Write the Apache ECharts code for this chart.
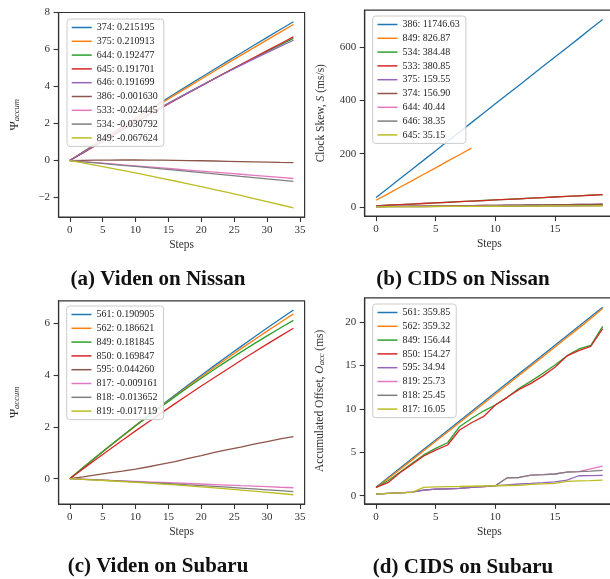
<!DOCTYPE html>
<html><head><meta charset="utf-8">
<script src="https://cdn.jsdelivr.net/npm/echarts@6/dist/echarts.min.js"></script>
<style>html,body{margin:0;padding:0;background:#fff}#c{width:610px;height:579px}</style>
</head><body><div id="c"></div>
<script>
// ---------- data ----------
const stepsA = [0,2,4,6,8,10,12,14,16,18,20,22,24,26,28,30,32,34];
const stepsB = [0,1,2,3,4,5,6,7,8,9,10,11,12,13,14,15,16,17,18,19];

const namesA = ['374: 0.215195','375: 0.210913','644: 0.192477','645: 0.191701','646: 0.191699','386: -0.001630','533: -0.024445','534: -0.030792','849: -0.067624'];
const a374 = [0,0.461,0.920,1.376,1.830,2.282,2.730,3.177,3.620,4.061,4.500,4.936,5.370,5.801,6.229,6.655,7.079,7.500];
const a375 = [0,0.452,0.902,1.348,1.793,2.236,2.675,3.113,3.548,3.980,4.410,4.837,5.263,5.685,6.104,6.522,6.937,7.350];
const a644 = [0,0.428,0.851,1.269,1.682,2.090,2.493,2.892,3.285,3.673,4.056,4.435,4.808,5.177,5.540,5.899,6.253,6.602];
const a645 = [0,0.418,0.833,1.245,1.653,2.059,2.461,2.860,3.256,3.649,4.039,4.426,4.810,5.190,5.567,5.941,6.313,6.680];
const a646 = [0,0.434,0.861,1.283,1.697,2.106,2.507,2.903,3.292,3.674,4.050,4.420,4.783,5.140,5.490,5.834,6.171,6.502];
const a386 = [0,0.010,0.020,0.025,0.030,0.030,0.025,0.020,0.010,0,-0.010,-0.025,-0.040,-0.055,-0.070,-0.085,-0.100,-0.110];
const a533 = [0,-0.057,-0.114,-0.171,-0.228,-0.285,-0.342,-0.399,-0.456,-0.513,-0.570,-0.627,-0.684,-0.741,-0.798,-0.855,-0.912,-0.970];
const a534 = [0,-0.066,-0.130,-0.195,-0.260,-0.320,-0.385,-0.450,-0.520,-0.590,-0.655,-0.720,-0.790,-0.860,-0.925,-0.990,-1.055,-1.120];
const a849 = [0,-0.128,-0.260,-0.394,-0.530,-0.670,-0.812,-0.957,-1.105,-1.256,-1.409,-1.565,-1.724,-1.886,-2.051,-2.218,-2.388,-2.562];

const namesB = ['386: 11746.63','849: 826.87','534: 384.48','533: 380.85','375: 159.55','374: 156.90','644: 40.44','646: 38.35','645: 35.15'];
const b386 = [35,70,106,141,176,211,247,282,317,352,388,423,458,493,529,564,599,634,670,705];
const b849 = [25,49,74,98,123,147,172,196,221];
const b534 = [4.2,6.4,8.6,10.8,13.0,15.3,17.5,19.7,21.9,24.1,26.3,28.5,30.7,32.9,35.1,37.4,39.6,41.8,44.0,46.2];
const b533 = [4.0,6.2,8.4,10.6,12.8,15.1,17.3,19.5,21.7,23.9,26.1,28.3,30.5,32.7,34.9,37.2,39.4,41.6,43.8,46.0];
const b375 = [1.5,2.0,2.4,2.9,3.3,3.8,4.2,4.7,5.1,5.6,6.0,6.5,6.9,7.4,7.8,8.3,8.7,9.2,9.6,10.1];
const b374 = [1.4,1.9,2.3,2.8,3.2,3.7,4.1,4.6,5.0,5.5,5.9,6.4,6.8,7.3,7.7,8.2,8.6,9.1,9.5,9.9];
const b644 = [0.5,0.7,1.0,1.2,1.4,1.7,1.9,2.1,2.4,2.6,2.8,3.1,3.3,3.5,3.8,4.0,4.2,4.5,4.7,4.9];
const b646 = [0.5,0.7,0.9,1.1,1.4,1.6,1.8,2.0,2.3,2.5,2.7,2.9,3.1,3.4,3.6,3.8,4.0,4.3,4.5,4.7];
const b645 = [0.4,0.6,0.8,1.0,1.3,1.5,1.7,1.9,2.1,2.3,2.5,2.7,2.9,3.1,3.3,3.5,3.7,3.9,4.1,4.3];

const namesC = ['561: 0.190905','562: 0.186621','849: 0.181845','850: 0.169847','595: 0.044260','817: -0.009161','818: -0.013652','819: -0.017119'];
const c561 = [0,0.419,0.833,1.243,1.648,2.049,2.445,2.837,3.224,3.606,3.984,4.357,4.726,5.090,5.450,5.805,6.155,6.502];
const c562 = [0,0.418,0.831,1.238,1.639,2.035,2.426,2.810,3.190,3.563,3.931,4.294,4.651,5.002,5.348,5.688,6.022,6.351];
const c849 = [0,0.424,0.839,1.247,1.646,2.038,2.421,2.796,3.163,3.522,3.872,4.215,4.550,4.876,5.194,5.505,5.807,6.101];
const c850 = [0,0.377,0.750,1.118,1.482,1.842,2.196,2.546,2.892,3.233,3.570,3.902,4.230,4.553,4.871,5.186,5.495,5.800];
const c595 = [0,0.07,0.15,0.22,0.29,0.37,0.46,0.56,0.66,0.78,0.89,1.01,1.12,1.22,1.33,1.43,1.53,1.62];
const c817 = [0,-0.021,-0.041,-0.062,-0.082,-0.103,-0.124,-0.144,-0.165,-0.185,-0.206,-0.227,-0.247,-0.268,-0.288,-0.309,-0.330,-0.350];
const c818 = [0,-0.023,-0.046,-0.071,-0.096,-0.122,-0.149,-0.177,-0.205,-0.235,-0.265,-0.296,-0.328,-0.361,-0.394,-0.429,-0.464,-0.500];
const c819 = [0,-0.025,-0.052,-0.080,-0.110,-0.141,-0.173,-0.207,-0.242,-0.278,-0.316,-0.355,-0.396,-0.438,-0.481,-0.526,-0.572,-0.620];

const namesD = ['561: 359.85','562: 359.32','849: 156.44','850: 154.27','595: 34.94','819: 25.73','818: 25.45','817: 16.05'];
const d561 = [0.98,2.07,3.16,4.25,5.34,6.43,7.52,8.61,9.70,10.79,11.88,12.97,14.06,15.15,16.24,17.33,18.42,19.51,20.60,21.70];
const d562 = [0.92,1.95,3.02,4.10,5.18,6.26,7.34,8.43,9.51,10.60,11.68,12.77,13.86,14.95,16.04,17.12,18.21,19.30,20.40,21.55];
const d849 = [0.96,1.73,2.70,3.70,4.70,5.45,6.10,7.95,8.90,9.75,10.45,11.33,12.37,13.20,14.10,15.05,16.10,16.90,17.30,19.50];
const d850 = [0.96,1.50,2.65,3.60,4.57,5.26,5.84,7.57,8.40,9.10,10.45,11.33,12.25,12.94,13.80,14.80,16.10,16.70,17.20,19.25];
const d595 = [0.19,0.28,0.33,0.42,0.65,0.75,0.80,0.85,0.95,1.05,1.15,1.25,1.35,1.42,1.50,1.60,1.80,2.30,2.32,2.35];
const d819 = [0.19,0.28,0.33,0.42,0.65,0.75,0.80,0.85,0.95,1.05,1.15,2.07,2.10,2.38,2.42,2.50,2.73,2.77,3.10,3.42];
const d818 = [0.19,0.28,0.33,0.42,0.65,0.75,0.80,0.85,0.95,1.05,1.15,2.07,2.10,2.38,2.42,2.50,2.73,2.77,2.84,2.92];
const d817 = [0.19,0.28,0.33,0.38,0.96,1.02,1.04,1.06,1.09,1.12,1.15,1.18,1.20,1.30,1.36,1.42,1.65,1.70,1.74,1.80];

const ticksXA = [0,5,10,15,20,25,30,35];
const ticksXB = [0,5,10,15];
const ticksYA = [-2,0,2,4,6,8];
const ticksYB = [0,200,400,600];
const ticksYC = [0,2,4,6];
const ticksYD = [0,5,10,15,20];

const titles = ['(a) Viden on Nissan','(b) CIDS on Nissan','(c) Viden on Subaru','(d) CIDS on Subaru'];

// ---------- styling ----------
const C = {blue:'#1f77b4',orange:'#ff7f0e',green:'#2ca02c',red:'#d62728',purple:'#9467bd',brown:'#8c564b',pink:'#e377c2',grey:'#7f7f7f',olive:'#bcbd22'};
const FF = '"Liberation Serif", "DejaVu Serif", serif';
const FRAME = '#333333';
const fmt = v => (v < 0 ? '\u2212' + Math.abs(v) : String(v));

const grids = [
  {left:58.6, top:12.5, width:246, height:204.5},
  {left:364.7, top:10.2, width:249.3, height:206},
  {left:58.6, top:300.8, width:246, height:203.2},
  {left:364.7, top:297.9, width:249.3, height:205.9}
].map(g => Object.assign({show:true, borderColor:FRAME, borderWidth:1.2, backgroundColor:'transparent', outerBoundsMode:'none'}, g));

function xAx(gi, min, max, ticks) {
  return {type:'value', gridIndex:gi, min, max, name:'Steps', nameLocation:'middle', nameGap:22,
    nameTextStyle:{fontFamily:FF, fontSize:11.5, color:'#333'},
    axisLine:{show:true, onZero:false, lineStyle:{color:FRAME, width:1.2}}, splitLine:{show:false},
    axisTick:{show:true, length:5, lineStyle:{color:FRAME, width:1.1}, customValues:ticks},
    axisLabel:{customValues:ticks, fontFamily:FF, fontSize:11, color:'#333', margin:7.5, formatter:fmt}};
}
function yAx(gi, min, max, ticks, name, gap) {
  return {type:'value', gridIndex:gi, min, max, name, nameLocation:'middle', nameGap:gap,
    nameTextStyle:{fontFamily:FF, fontSize:11.5, color:'#333',
      rich:{n:{fontFamily:FF, fontSize:11.5, color:'#333'},
            i:{fontFamily:FF, fontSize:11.5, fontStyle:'italic', color:'#333'},
            g:{fontFamily:FF, fontSize:12.5, color:'#333'},
            s:{fontFamily:FF, fontSize:8.5, fontStyle:'italic', color:'#333', verticalAlign:'bottom', padding:[4,0,0,0]}}},
    axisLine:{show:true, onZero:false, lineStyle:{color:FRAME, width:1.2}}, splitLine:{show:false},
    axisTick:{show:true, length:5, lineStyle:{color:FRAME, width:1.1}, customValues:ticks},
    axisLabel:{customValues:ticks, fontFamily:FF, fontSize:11, color:'#333', margin:8.5, formatter:fmt}};
}

function mkSeries(prefix, gi, steps, name, color, vals, z) {
  return {type:'line', name: prefix + name, xAxisIndex:gi, yAxisIndex:gi,
    data: vals.map((v,i) => [steps[i], v]), symbol:'none', showSymbol:false, z: z || 2,
    lineStyle:{color, width:1.3}, itemStyle:{color}, emphasis:{disabled:true}, silent:true, animation:false};
}

function mkLegend(prefix, names, left, top) {
  return {orient:'vertical', left, top, data: names.map(n => prefix + n), formatter: n => n.slice(2),
    itemWidth:20, itemHeight:10, itemGap:2.8, padding:[3,6,3,4],
    itemStyle:{opacity:0}, lineStyle:{width:1.5, opacity:1},
    backgroundColor:'rgba(255,255,255,0.85)', borderColor:'#cccccc', borderWidth:1, borderRadius:3,
    selectedMode:false, textStyle:{fontFamily:FF, fontSize:10, color:'#222', lineHeight:11}};
}

const series = [
  mkSeries('a|',0,stepsA,namesA[0],C.blue,a374),
  mkSeries('a|',0,stepsA,namesA[1],C.orange,a375),
  mkSeries('a|',0,stepsA,namesA[2],C.green,a644),
  mkSeries('a|',0,stepsA,namesA[3],C.red,a645),
  mkSeries('a|',0,stepsA,namesA[4],C.purple,a646),
  mkSeries('a|',0,stepsA,namesA[5],C.brown,a386),
  mkSeries('a|',0,stepsA,namesA[6],C.pink,a533),
  mkSeries('a|',0,stepsA,namesA[7],C.grey,a534),
  mkSeries('a|',0,stepsA,namesA[8],C.olive,a849),

  mkSeries('b|',1,stepsB,namesB[0],C.blue,b386),
  mkSeries('b|',1,stepsB,namesB[1],C.orange,b849),
  mkSeries('b|',1,stepsB,namesB[2],C.green,b534),
  mkSeries('b|',1,stepsB,namesB[3],C.red,b533),
  mkSeries('b|',1,stepsB,namesB[4],C.purple,b375),
  mkSeries('b|',1,stepsB,namesB[5],C.brown,b374),
  mkSeries('b|',1,stepsB,namesB[6],C.pink,b644),
  mkSeries('b|',1,stepsB,namesB[7],C.grey,b646),
  mkSeries('b|',1,stepsB,namesB[8],C.olive,b645),

  mkSeries('c|',2,stepsA,namesC[0],C.blue,c561),
  mkSeries('c|',2,stepsA,namesC[1],C.orange,c562),
  mkSeries('c|',2,stepsA,namesC[2],C.green,c849),
  mkSeries('c|',2,stepsA,namesC[3],C.red,c850),
  mkSeries('c|',2,stepsA,namesC[4],C.brown,c595),
  mkSeries('c|',2,stepsA,namesC[5],C.pink,c817),
  mkSeries('c|',2,stepsA,namesC[6],C.grey,c818),
  mkSeries('c|',2,stepsA,namesC[7],C.olive,c819),

  mkSeries('d|',3,stepsB,namesD[0],C.blue,d561),
  mkSeries('d|',3,stepsB,namesD[1],C.orange,d562),
  mkSeries('d|',3,stepsB,namesD[2],C.green,d849),
  mkSeries('d|',3,stepsB,namesD[3],C.red,d850),
  mkSeries('d|',3,stepsB,namesD[5],C.pink,d819),
  mkSeries('d|',3,stepsB,namesD[6],C.grey,d818),
  mkSeries('d|',3,stepsB,namesD[4],C.purple,d595,3),
  mkSeries('d|',3,stepsB,namesD[7],C.olive,d817,3)
];

const titleCfg = (text, cx, cy) => ({text, left:cx, top:cy - 11, textAlign:'center', padding:0,
  textStyle:{fontFamily:FF, fontSize:21, fontWeight:'bold', color:'#111', lineHeight:22}});

const option = {
  animation:false,
  title:[titleCfg(titles[0],158,280), titleCfg(titles[1],463,280), titleCfg(titles[2],158,567), titleCfg(titles[3],463,568)],
  grid: grids,
  xAxis:[xAx(0,-1.7,35.7,ticksXA), xAx(1,-0.95,19.95,ticksXB), xAx(2,-1.7,35.7,ticksXA), xAx(3,-0.95,19.95,ticksXB)],
  yAxis:[
    yAx(0,-3.05,8.0,ticksYA,'{g|\u03A8}{s|accum}',37),
    yAx(1,-35,740,ticksYB,'{n|Clock Skew, }{i|S}{n| (ms/s)}',38),
    yAx(2,-0.976,6.856,ticksYC,'{g|\u03A8}{s|accum}',37),
    yAx(3,-0.93,22.78,ticksYD,'{n|Accumulated Offset, }{i|O}{s|acc}{n| (ms)}',38)
  ],
  legend:[mkLegend('a|',namesA,67,19), mkLegend('b|',namesB,372.7,16), mkLegend('c|',namesC,66.7,306), mkLegend('d|',namesD,372.7,304)],
  series
};
const chart = echarts.init(document.getElementById('c'), null, {renderer:'canvas'});
chart.setOption(option);
</script>
</body></html>
